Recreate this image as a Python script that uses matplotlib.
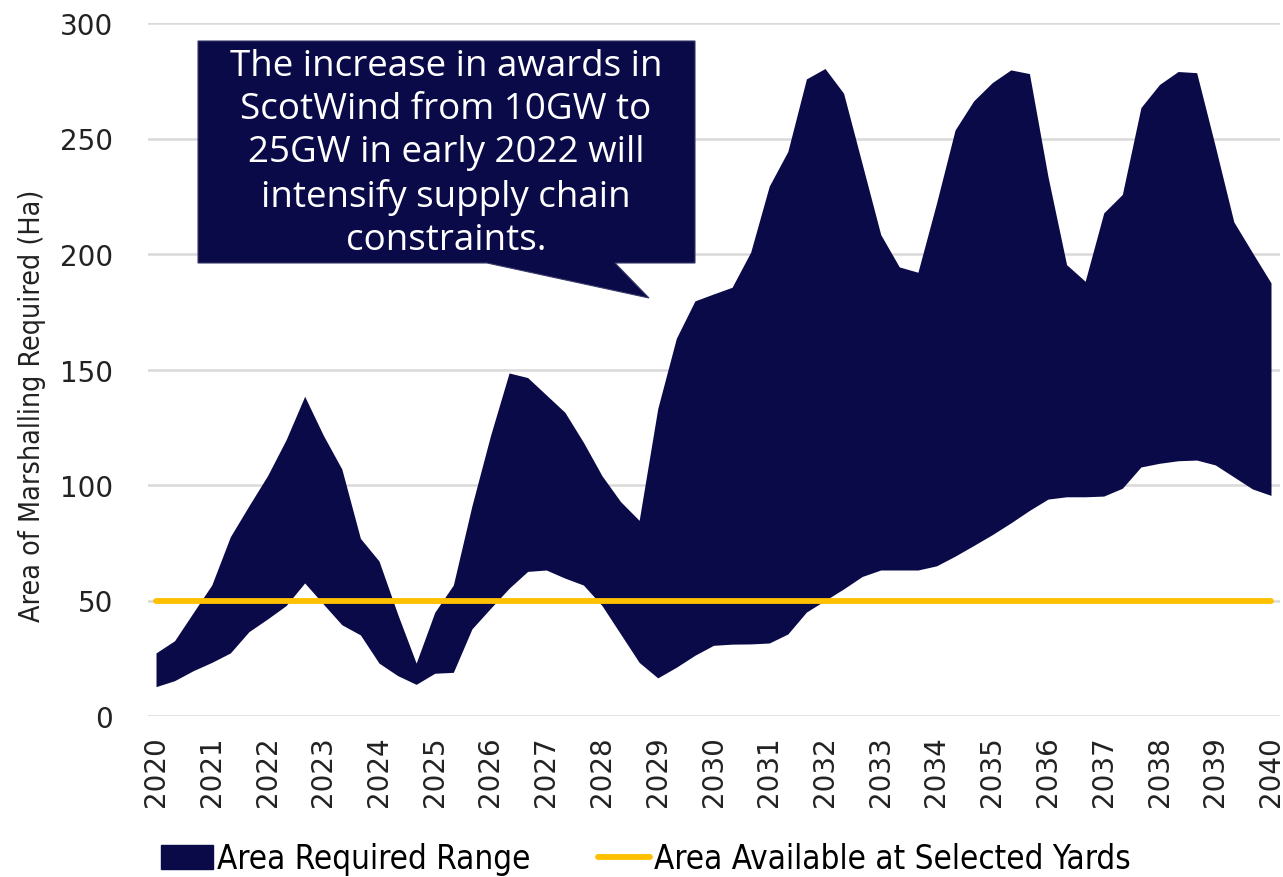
import numpy as np
import matplotlib
matplotlib.use("Agg")
import matplotlib.pyplot as plt
from matplotlib.patches import Patch, Polygon
from matplotlib.lines import Line2D
from matplotlib.font_manager import FontProperties

# ---- data (every 4 months, 2020 -> 2040) ----
years_start = 2020
years_end = 2040
points_per_year = 3
upper = [27.3, 32.6, 44.7, 56.7, 77.6, 91.0, 104.0, 119.6, 138.4, 121.6,
         106.9, 76.9, 67.1, 44.2, 22.9, 44.9, 56.7, 91.0, 121.4, 148.5,
         146.5, 139.0, 131.5, 118.5, 104.0, 92.8, 84.7, 133.1, 163.5, 179.7,
         182.7, 185.6, 200.8, 229.4, 244.4, 275.8, 280.3, 269.6, 239.0, 208.4,
         194.4, 192.1, 222.0, 253.7, 266.3, 274.2, 279.7, 278.1, 233.5, 195.4,
         188.2, 217.8, 225.8, 263.4, 273.4, 279.0, 278.5, 246.7, 213.9, 200.6,
         187.5]
lower = [12.7, 15.3, 19.6, 23.2, 27.3, 36.5, 42.0, 47.8, 57.6, 48.5,
         39.5, 35.1, 22.9, 17.5, 13.7, 18.5, 18.9, 37.7, 46.6, 55.3,
         62.6, 63.2, 59.7, 56.7, 47.8, 35.5, 23.2, 16.5, 21.1, 26.3,
         30.6, 31.1, 31.2, 31.6, 35.5, 45.0, 50.0, 55.0, 60.4, 63.2,
         63.2, 63.2, 65.0, 69.2, 73.8, 78.5, 83.6, 89.0, 93.9, 94.9,
         94.9, 95.2, 98.6, 107.8, 109.4, 110.5, 110.8, 108.7, 103.5, 98.3,
         95.5]
available = 50
year_ticks = list(range(2020, 2041))
y_ticks = [0, 50, 100, 150, 200, 250, 300]
callout_text = ("The increase in awards in\nScotWind from 10GW to\n"
                "25GW in early 2022 will\nintensify supply chain\nconstraints.")
ylabel = "Area of Marshalling Required (Ha)"
legend_labels = ["Area Required Range", "Area Available at Selected Yards"]

x = years_start + np.arange(len(upper)) / points_per_year

NAVY = "#0A0A48"
YELLOW = "#FFC000"
GRID = "#D9D9D9"
TXT = "#222222"

W, H = 1283, 878
fig = plt.figure(figsize=(W / 100, H / 100), dpi=100)
ax = fig.add_axes([148 / W, 1 - 717 / H, (1280 - 148) / W, (717 - 24) / H])

ax.fill_between(x, lower, upper, color=NAVY, linewidth=0, zorder=2)
ax.plot([years_start, years_end], [available, available], color=YELLOW,
        lw=4.2, solid_capstyle="round", zorder=3)

ax.set_xlim(2020 - 8 / 55.75, 2040 + 9 / 55.75)
ax.set_ylim(0, 300)
ax.set_yticks(y_ticks)
ax.set_xticks(year_ticks)
ax.set_xticklabels([str(y) for y in year_ticks], rotation=90)
ax.grid(axis="y", color=GRID, lw=1.8, zorder=0)
ax.set_axisbelow(True)
for s in ax.spines.values():
    s.set_visible(False)
ax.tick_params(axis="both", length=0, labelsize=20, colors=TXT)
ax.tick_params(axis="y", pad=25)
ax.tick_params(axis="x", pad=14)

cond = FontProperties(family="DejaVu Sans", stretch="condensed", size=20.5)
fig.text(32 / W, 1 - 406 / H, ylabel, rotation=90, ha="center", va="center",
         fontproperties=cond, color=TXT)

# callout box (figure pixel coords, y measured from top)
def fp(px, py):
    return (px / W, 1 - py / H)

poly = [fp(198, 42), fp(695, 42), fp(695, 264), fp(615, 264), fp(649, 299),
        fp(487, 264), fp(198, 264)]
fig.patches.append(Polygon(poly, closed=True, transform=fig.transFigure,
                           facecolor=NAVY, edgecolor="#3a3a6a", lw=0.8,
                           zorder=5))
fig.text(446 / W, 1 - 154 / H, callout_text, ha="center", va="center",
         color="white", fontsize=26.5, family=["Open Sans", "DejaVu Sans"],
         linespacing=1.26, zorder=6)

handles = [Patch(facecolor=NAVY, edgecolor=NAVY),
           Line2D([0], [0], color=YELLOW, lw=4.2, solid_capstyle="round")]
legfont = FontProperties(family="DejaVu Sans", stretch="condensed", size=23.8)
fig.legend(handles, legend_labels, loc="center",
           bbox_to_anchor=(646 / W, 1 - 860 / H), ncol=2, frameon=False,
           prop=legfont, handlelength=1.57, handleheight=0.7,
           handletextpad=0.12, columnspacing=2.05)

fig.savefig("out.png", dpi=100)
